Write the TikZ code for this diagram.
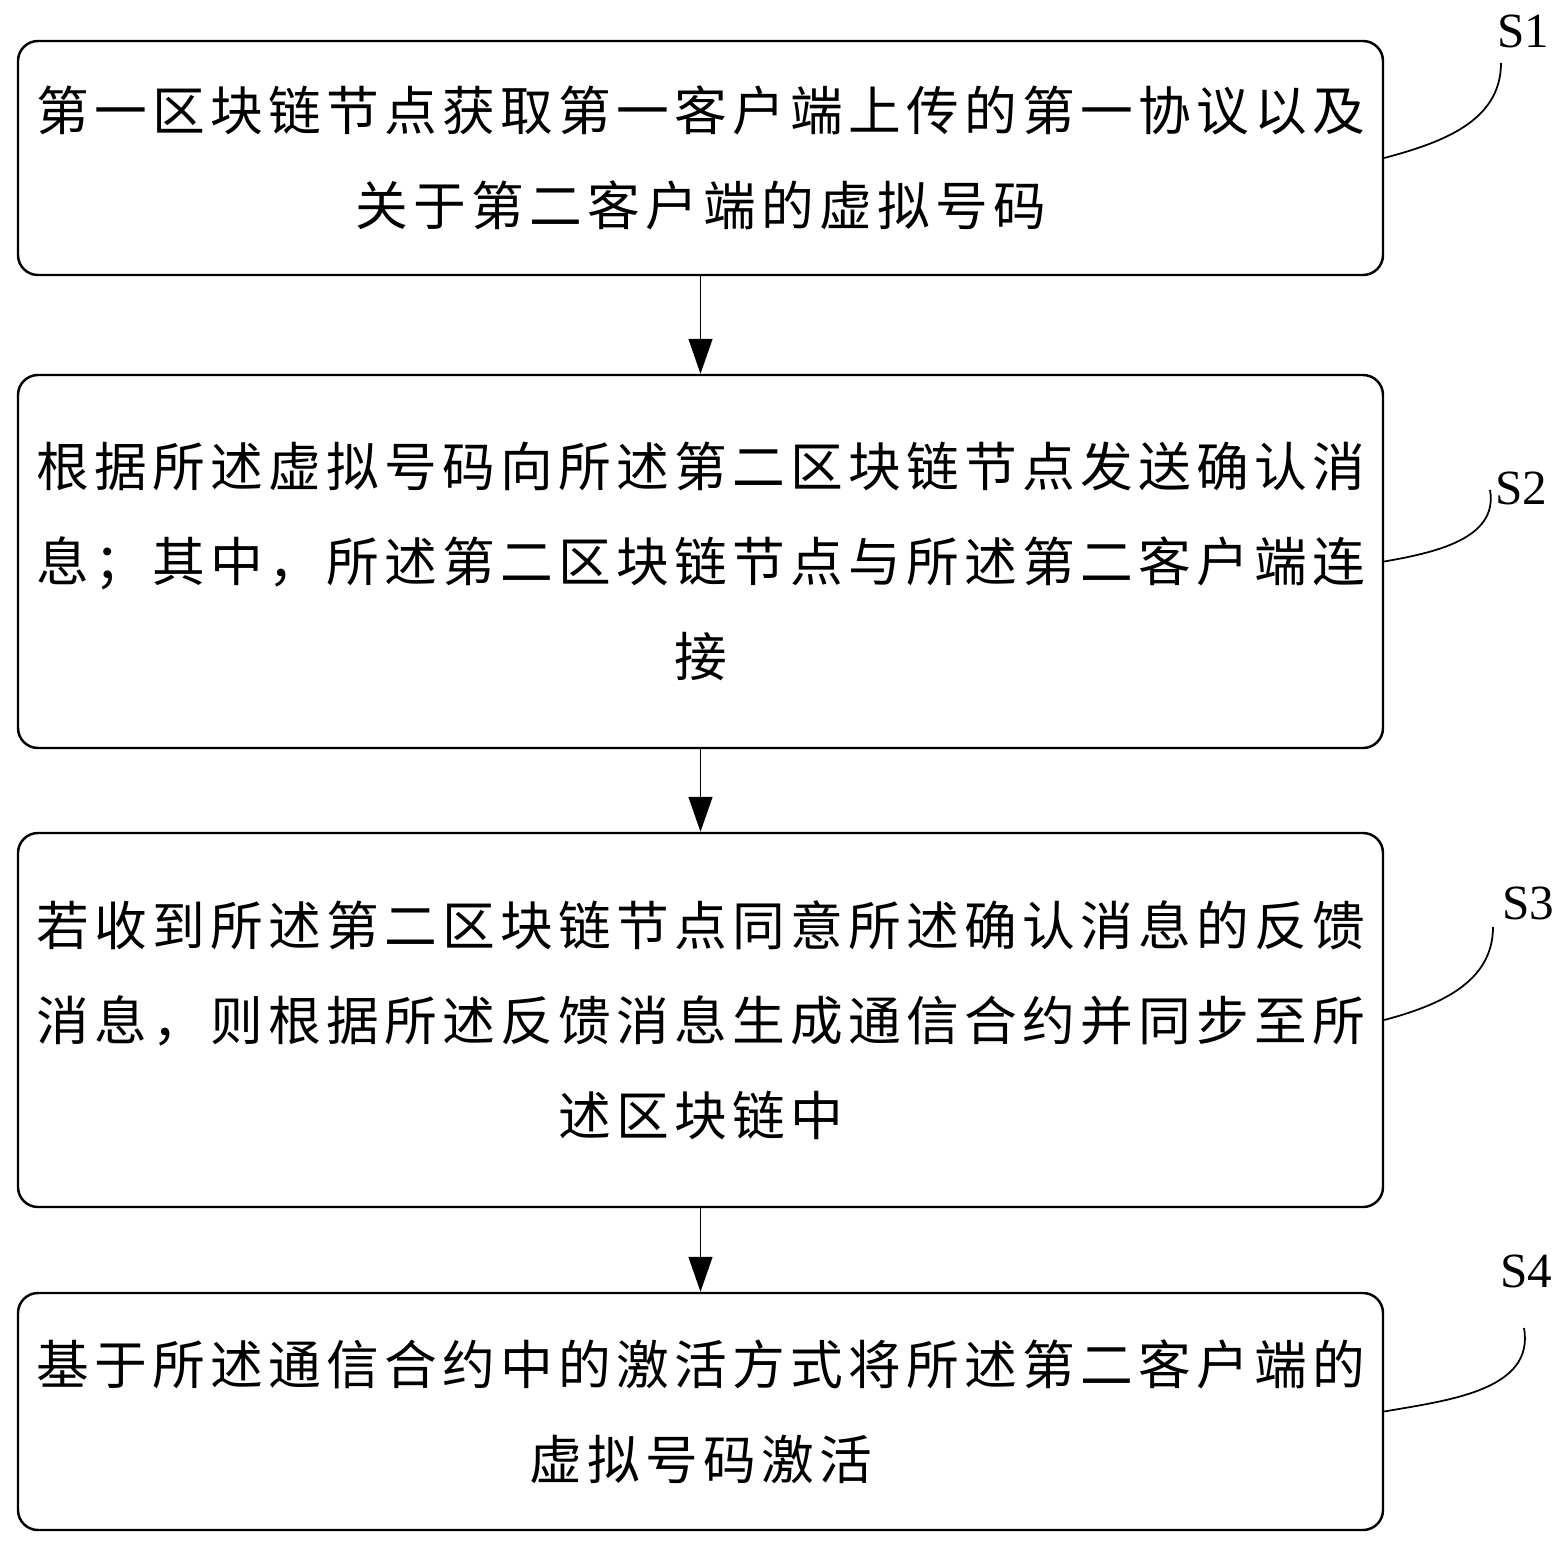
\documentclass[tikz,border=0pt]{standalone}
\usepackage{fontspec}
\setmainfont{Liberation Serif}
\newfontfamily\cjk[LetterSpace=10]{Noto Sans CJK SC}
\usetikzlibrary{arrows.meta}

\tikzset{
    stepbox/.style={rectangle,draw,rounded corners=0.2cm,line width=0.7pt,minimum width=13.65cm,align=center,font=\cjk\fontsize{15pt}{27pt}\selectfont},
    steplabel/.style={font=\fontsize{14pt}{16pt}\selectfont},
    flow/.style={-{Triangle[length=0.35cm,width=0.24cm]},line width=0.4pt},
    leader/.style={line width=0.5pt}
}

\begin{document}
\begin{tikzpicture}
            \useasboundingbox (0,0) rectangle (15.64,-15.44);

            \node[stepbox,minimum height=2.34cm] (s1) at (7.005,-1.58) {第一区块链节点获取第一客户端上传的第一协议以及\\关于第二客户端的虚拟号码};
            \node[stepbox,minimum height=3.73cm] (s2) at (7.005,-5.615) {根据所述虚拟号码向所述第二区块链节点发送确认消\\息；其中，所述第二区块链节点与所述第二客户端连\\接};
            \node[stepbox,minimum height=3.74cm] (s3) at (7.005,-10.20) {若收到所述第二区块链节点同意所述确认消息的反馈\\消息，则根据所述反馈消息生成通信合约并同步至所\\述区块链中};
            \node[stepbox,minimum height=2.37cm] (s4) at (7.005,-14.115) {基于所述通信合约中的激活方式将所述第二客户端的\\虚拟号码激活};

            \draw[flow] (s1.south) -- (s2.north);
            \draw[flow] (s2.south) -- (s3.north);
            \draw[flow] (s3.south) -- (s4.north);

            % step labels
            \node[steplabel] (l1) at (15.23,-0.31) {S1};
            \node[steplabel] (l2) at (15.21,-4.88) {S2};
            \node[steplabel] (l3) at (15.28,-9.03) {S3};
            \node[steplabel] (l4) at (15.26,-12.71) {S4};

            \coordinate (e1) at (15.01,-0.63);
            \coordinate (e2) at (14.90,-4.90);
            \coordinate (e3) at (14.93,-9.27);
            \coordinate (e4) at (15.24,-13.28);

            \draw[leader] (s1.east) to[out=15,in=-90] (e1);
            \draw[leader] (s2.east) to[out=10,in=-80] (e2);
            \draw[leader] (s3.east) to[out=15,in=-90] (e3);
            \draw[leader] (s4.east) to[out=10,in=-80] (e4);
        \end{tikzpicture}
\end{document}
